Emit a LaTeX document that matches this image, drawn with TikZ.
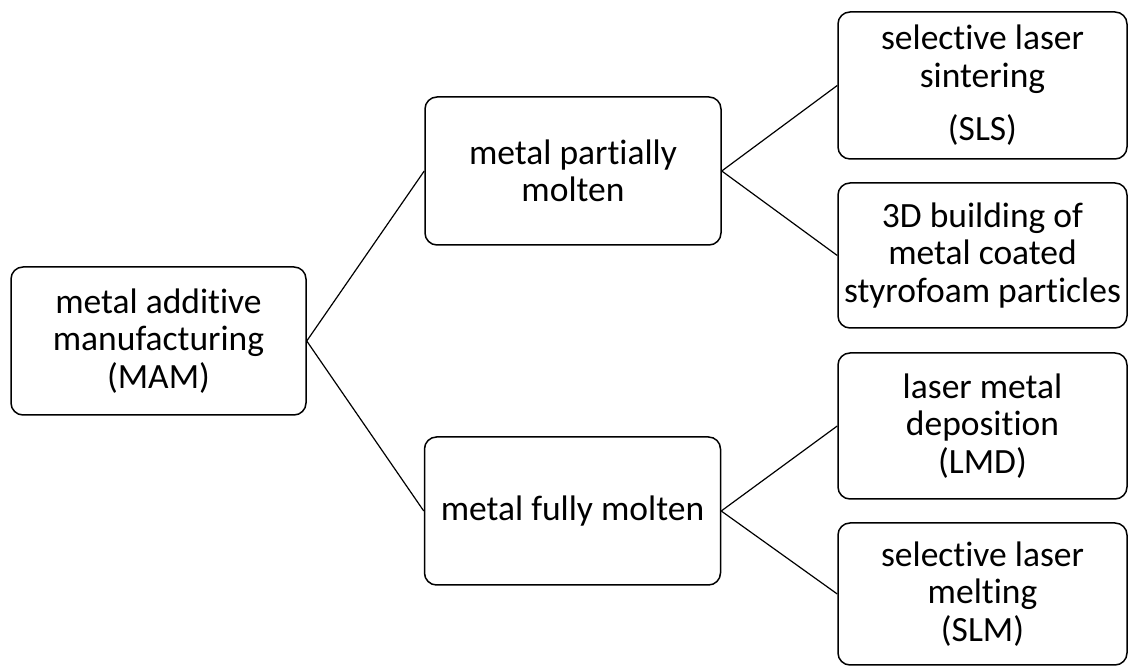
\documentclass[tikz,border=0pt]{standalone}
\usepackage{fontspec}
\setmainfont{Carlito}[RawFeature={-liga;-clig;-dlig}]
\begin{document}
\begin{tikzpicture}[x=1pt,y=1pt,
  box/.style={draw, line width=1.5pt, rounded corners=12pt, align=center, inner sep=0pt,
    font=\fontsize{35.5}{37.5}\selectfont},
  midbox/.style={box, minimum width=296pt, minimum height=148pt},
  rbox/.style={box, minimum width=289pt},
  link/.style={line width=1.2pt}]
\useasboundingbox (0,0) rectangle (1128,666);
\node[box, minimum width=295pt, minimum height=148pt] (mam) at (158.5,325) {metal additive\\manufacturing\\(MAM)};
\node[midbox] (partial) at (573,495) {metal partially\\molten};
\node[midbox] (fully) at (572.5,155) {metal fully molten};
\node[rbox, minimum height=147pt] (sls) at (982.5,580.5) {selective laser\\sintering\\[16pt](SLS)};
\node[rbox, minimum height=145pt] (styro) at (982.5,410.5) {3D building of\\metal coated\\styrofoam particles};
\node[rbox, minimum height=146pt] (lmd) at (982.5,240) {laser metal\\deposition\\(LMD)};
\node[rbox, minimum height=142pt] (slm) at (982.5,72) {selective laser\\melting\\(SLM)};
\draw[link] (mam.east) -- (partial.west);
\draw[link] (mam.east) -- (fully.west);
\draw[link] (partial.east) -- (sls.west);
\draw[link] (partial.east) -- (styro.west);
\draw[link] (fully.east) -- (lmd.west);
\draw[link] (fully.east) -- (slm.west);
\end{tikzpicture}
\end{document}
